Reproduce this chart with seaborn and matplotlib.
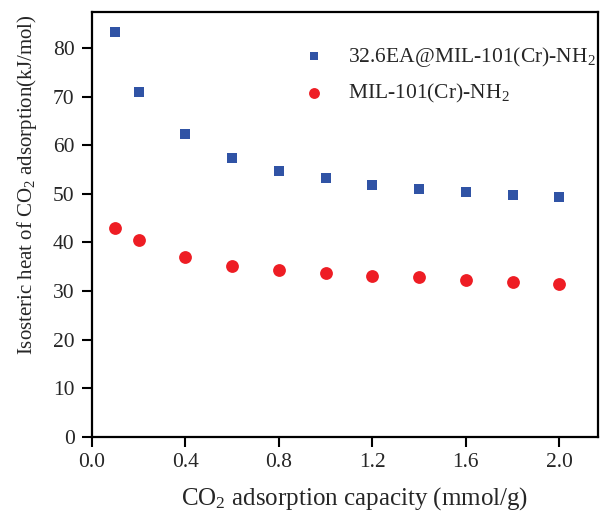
import matplotlib
matplotlib.use("Agg")
import matplotlib.pyplot as plt
import seaborn as sns
import pandas as pd

# Data
capacity = [0.1, 0.2, 0.4, 0.6, 0.8, 1.0, 1.2, 1.4, 1.6, 1.8, 2.0]
heat_ea = [83.2, 70.9, 62.4, 57.4, 54.8, 53.2, 51.8, 51.0, 50.3, 49.8, 49.3]
heat_mil = [43.0, 40.6, 37.1, 35.2, 34.4, 33.8, 33.2, 32.8, 32.3, 31.8, 31.5]
series_names = ["32.6EA@MIL-101(Cr)-NH$_2$", "MIL-101(Cr)-NH$_2$"]
x_ticks = [0.0, 0.4, 0.8, 1.2, 1.6, 2.0]
y_ticks = [0, 10, 20, 30, 40, 50, 60, 70, 80]

df = pd.concat([
    pd.DataFrame({"x": capacity, "y": heat_ea, "series": series_names[0]}),
    pd.DataFrame({"x": capacity, "y": heat_mil, "series": series_names[1]}),
])

sns.set_theme(style="ticks")
plt.rcParams["font.family"] = ["Liberation Serif", "DejaVu Serif"]
plt.rcParams["mathtext.fontset"] = "custom"
plt.rcParams["mathtext.rm"] = "Liberation Serif"
plt.rcParams["mathtext.it"] = "Liberation Serif:italic"
plt.rcParams["mathtext.default"] = "rm"

fig = plt.figure(figsize=(6.08, 5.15), dpi=100)
ax = fig.add_axes([0.1513, 0.1515, 0.8323, 0.8252])

palette = {series_names[0]: "#3053a5", series_names[1]: "#ee1d24"}
markers = {series_names[0]: "s", series_names[1]: "o"}
sizes = {series_names[0]: 55, series_names[1]: 85}
for name in series_names:
    sub = df[df["series"] == name]
    sns.scatterplot(data=sub, x="x", y="y", color=palette[name], marker=markers[name],
                    s=sizes[name], linewidth=0, ax=ax, label=name)

ax.set_xlim(0, 2.166)
ax.set_ylim(0, 87.4)
ax.set_xticks(x_ticks)
ax.set_xticklabels([f"{v:.1f}" for v in x_ticks])
ax.set_yticks(y_ticks)
ax.tick_params(axis="both", direction="out", length=7.5, width=1.5, labelsize=15.5, color="black")
ax.tick_params(axis="x", pad=4)
ax.tick_params(axis="y", pad=5)
for s in ax.spines.values():
    s.set_linewidth(1.6)
    s.set_color("black")

ax.set_xlabel("CO$_2$ adsorption capacity (mmol/g)", fontsize=18)
ax.set_ylabel("Isosteric heat of CO$_2$ adsorption(kJ/mol)", fontsize=15)
ax.xaxis.set_label_coords(0.519, -0.146)
ax.xaxis.label.set_va("center")
ax.yaxis.set_label_coords(-0.128, 0.593)
ax.yaxis.label.set_va("center")

leg = ax.legend(loc="upper left", bbox_to_anchor=(0.358, 0.969), frameon=False, fontsize=15.5,
                handletextpad=0.6, labelspacing=0.62, markerscale=0.85)

fig.savefig("out.png", dpi=100)
